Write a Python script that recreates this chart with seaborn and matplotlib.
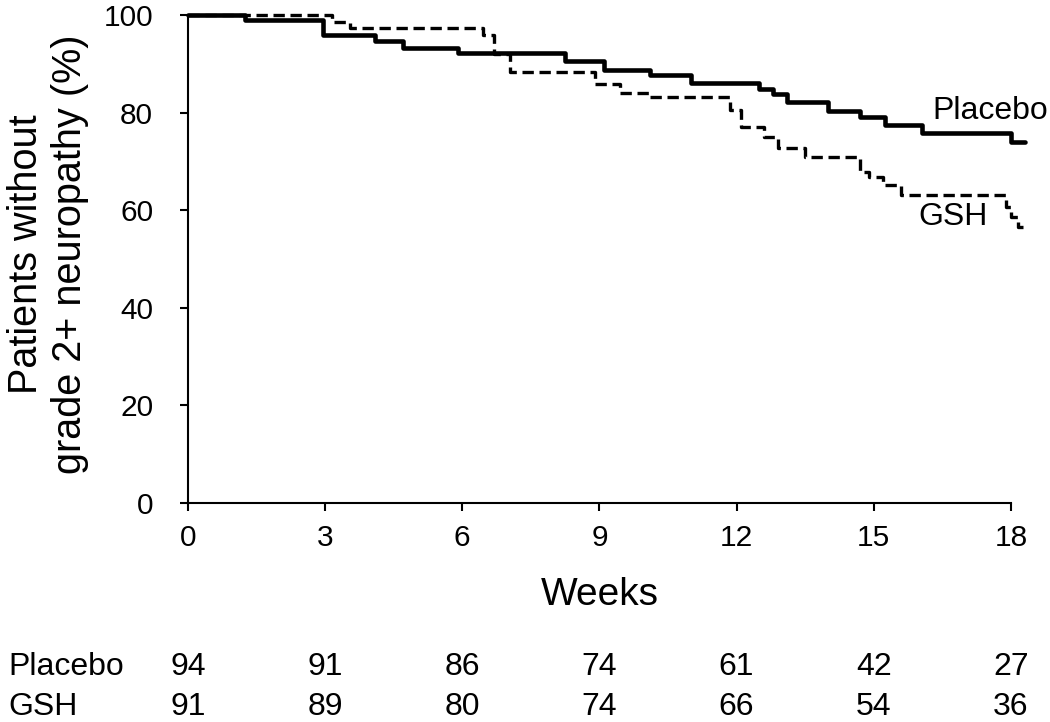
import matplotlib.pyplot as plt
import seaborn as sns

# Kaplan-Meier style steps (weeks, % without grade 2+)
placebo_weeks = [0, 1.25, 2.95, 4.1, 4.7, 5.9, 8.25, 9.1, 10.1, 11.0,
                 12.5, 12.8, 13.1, 14.0, 14.7, 15.25, 16.05, 18.0, 18.3]
placebo_pct = [100, 98.9, 95.9, 94.6, 93.3, 92.3, 90.6, 88.8, 87.7, 86.0,
               84.9, 83.9, 82.2, 80.3, 79.0, 77.5, 75.8, 74.0, 74.0]

gsh_weeks = [0, 3.15, 3.55, 6.45, 6.7, 7.05, 8.9, 9.45, 10.1, 11.85,
             12.1, 12.6, 12.9, 13.5, 14.7, 14.9, 15.2, 15.6, 17.9, 18.0,
             18.15, 18.27]
gsh_pct = [100, 98.5, 97.3, 95.9, 92.0, 88.4, 85.8, 84.1, 83.1, 80.5,
           77.1, 75.1, 72.7, 71.0, 67.9, 66.9, 65.2, 63.1, 60.7, 58.7,
           56.6, 56.6]

# numbers at risk
risk_weeks = [0, 3, 6, 9, 12, 15, 18]
placebo_risk = [94, 91, 86, 74, 61, 42, 27]
gsh_risk = [91, 89, 80, 74, 66, 54, 36]


def main():
    sns.set_style("ticks")
    plt.rcParams['font.family'] = ['Liberation Sans', 'DejaVu Sans']
    plt.rcParams['text.color'] = 'black'
    plt.rcParams['axes.labelcolor'] = 'black'

    fig = plt.figure(figsize=(10.5, 7.22), dpi=100)
    ax = fig.add_axes([0.179, 0.3033, 0.7838, 0.6759])

    sns.lineplot(x=placebo_weeks, y=placebo_pct, ax=ax, estimator=None,
                 sort=False, drawstyle='steps-post', color='black',
                 lw=3.3, clip_on=False, zorder=4)
    sns.lineplot(x=gsh_weeks, y=gsh_pct, ax=ax, estimator=None,
                 sort=False, drawstyle='steps-post', color='black',
                 lw=2.4, clip_on=False, zorder=3)
    ax.lines[-1].set_dashes((3.4, 1.7))

    ax.set_xlim(0, 18)
    ax.set_ylim(0, 100)
    ax.set_xticks(risk_weeks)
    ax.set_yticks(range(0, 101, 20))
    sns.despine(ax=ax)
    for side in ['left', 'bottom']:
        ax.spines[side].set_linewidth(1.5)
        ax.spines[side].set_color('black')
    ax.tick_params(direction='out', length=6, width=1.5, colors='black',
                   labelcolor='black', labelsize=21.5)
    ax.tick_params(axis='x', pad=9)
    ax.tick_params(axis='y', pad=19)

    ax.set_xlabel('Weeks', fontsize=28)
    ax.xaxis.label.set_va('center')
    ax.xaxis.set_label_coords(0.5, -0.188)
    ax.set_ylabel('Patients without\ngrade 2+ neuropathy (%)', fontsize=28.5)
    ax.yaxis.label.set_va('center')
    ax.yaxis.set_label_coords(-0.170, 0.51)

    ax.text(17.54, 80.3, 'Placebo', fontsize=23, ha='center', va='center')
    ax.text(16.73, 58.6, 'GSH', fontsize=23, ha='center', va='center')

    # at-risk table below the axis
    trans = ax.get_xaxis_transform()
    rows = [(placebo_risk, -0.336, 'Placebo'), (gsh_risk, -0.418, 'GSH')]
    for counts, ypos, name in rows:
        fig.text(0.0076, 0.3033 + ypos * 0.6759, name, fontsize=23,
                 ha='left', va='center')
        for wk, n in zip(risk_weeks, counts):
            ax.text(wk, ypos, str(n), transform=trans, fontsize=23,
                    ha='center', va='center', clip_on=False)

    fig.savefig('out.png', dpi=100)


if __name__ == '__main__':
    main()
